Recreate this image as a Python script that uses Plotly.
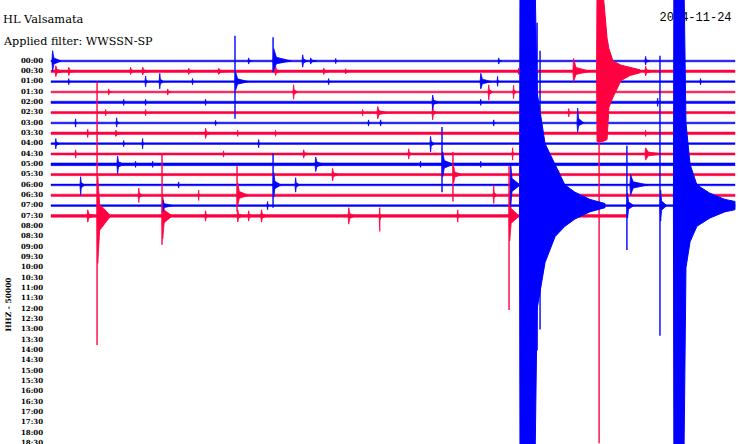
import plotly.graph_objects as go

station = "HL Valsamata"
filter_text = "Applied filter: WWSSN-SP"
date_text = "2024-11-24"
channel_text = "HHZ - 50000"

row_labels = ["00:00", "00:30", "01:00", "01:30", "02:00", "02:30", "03:00", "03:30",
              "04:00", "04:30", "05:00", "05:30", "06:00", "06:30", "07:00", "07:30",
              "08:00", "08:30", "09:00", "09:30", "10:00", "10:30", "11:00", "11:30",
              "12:00", "12:30", "13:00", "13:30", "14:00", "14:30", "15:00", "15:30",
              "16:00", "16:30", "17:00", "17:30", "18:00", "18:30", "19:00", "19:30",
              "20:00", "20:30", "21:00", "21:30", "22:00", "22:30", "23:00", "23:30"]

# minutes of data recorded in each 30-min row (rows with data only)
row_end = [30, 30, 30, 30, 30, 30, 30, 30, 30, 30, 30, 30, 30, 30, 30, 25.26]
# background noise half-amplitude per row (in row-spacing units)
row_noise = [0.08, 0.12, 0.08, 0.08, 0.11, 0.10, 0.08, 0.12,
             0.08, 0.10, 0.13, 0.10, 0.08, 0.11, 0.08, 0.13]

# events: row, minute in row, amplitude up, amplitude down, coda length (min)
ev_row = [0, 0, 0, 0, 0, 0, 0, 0,
          1, 1, 1, 1, 1, 1, 1, 1, 1, 1, 1, 1,
          2, 2, 2, 2, 2, 2, 2, 2, 2,
          3, 3, 3, 3, 3,
          4, 4, 4, 4, 4, 4,
          5, 5, 5, 5, 5, 5,
          6, 6, 6, 6, 6, 6, 6,
          7, 7, 7, 7, 7, 7,
          8, 8, 8, 8, 8,
          9, 9, 9, 9, 9, 9,
          10, 10, 10, 10, 10, 10, 10,
          11, 11, 11,
          12, 12, 12, 12, 12, 12,
          13, 13, 13, 13,
          14, 14, 14, 14,
          15, 15, 15, 15, 15, 15, 15, 15, 15, 15, 15]
ev_min = [0.04, 8.64, 9.74, 11.01, 11.36, 12.46, 19.61, 26.05,
          0.18, 0.75, 3.46, 3.99, 6.01, 7.32, 9.82, 11.93, 12.89, 20.48, 22.89, 26.05,
          0.75, 4.12, 4.74, 6.18, 8.07, 12.15, 18.82, 19.56, 28.46,
          2.5, 5.09, 10.61, 19.17, 20.26,
          3.16, 4.12, 6.75, 16.71, 18.82, 26.58,
          2.37, 4.12, 13.64, 14.3, 16.71, 22.68,
          1.05, 2.85, 7.19, 13.9, 14.43, 19.39, 23.07,
          1.58, 2.81, 6.75, 8.16, 9.82, 26.05,
          0.18, 3.16, 3.99, 9.08, 16.62,
          1.05, 7.54, 11.05, 15.66, 20.22, 26.05,
          2.89, 3.68, 4.43, 11.58, 16.18, 17.15, 18.82,
          12.32, 17.63, 22.24,
          1.27, 5.57, 9.74, 10.7, 20.13, 25.39,
          3.82, 6.45, 8.16, 19.39,
          4.87, 9.47, 25.26, 26.71,
          1.58, 2.02, 4.87, 6.75, 8.16, 8.64, 9.2, 13.03, 14.39, 17.81, 20.09]
ev_up = [1.0, 0.3, 1.2, 0.6, 0.3, 0.25, 0.3, 0.45,
         0.55, 0.4, 0.4, 0.4, 0.3, 0.3, 0.5, 0.3, 0.25, 0.3, 1.25, 0.5,
         0.3, 0.55, 0.8, 0.3, 0.9, 0.3, 0.8, 0.5, 0.3,
         0.3, 0.3, 0.7, 0.7, 0.65,
         0.3, 0.3, 0.3, 0.7, 0.3, 0.4,
         0.3, 0.3, 0.3, 0.6, 0.7, 0.4,
         0.4, 0.5, 0.25, 0.3, 0.3, 0.3, 1.45,
         0.4, 0.3, 0.5, 0.3, 0.3, 0.3,
         0.5, 0.3, 0.5, 0.4, 0.7,
         0.4, 0.3, 0.4, 0.5, 0.6, 0.6,
         0.8, 0.3, 0.3, 0.7, 0.3, 1.2, 0.3,
         0.6, 0.8, 0.4,
         0.8, 0.3, 1.2, 0.7, 2.1, 1.0,
         0.7, 0.5, 1.2, 1.0,
         0.6, 0.4, 1.2, 1.5,
         0.6, 3.8, 1.9, 0.5, 0.6, 0.5, 0.6, 0.8, 0.8, 0.6, 2.4]
ev_dn = [1.0, 0.3, 0.9, 0.6, 0.3, 0.25, 0.3, 0.4,
         0.5, 0.4, 0.3, 0.35, 0.3, 0.3, 0.4, 0.3, 0.25, 0.3, 1.0, 0.45,
         0.3, 0.5, 0.7, 0.3, 0.8, 0.3, 0.7, 0.45, 0.3,
         0.3, 0.3, 0.7, 0.8, 0.65,
         0.3, 0.3, 0.3, 0.7, 0.3, 0.4,
         0.3, 0.3, 0.3, 0.6, 0.7, 0.4,
         0.4, 0.4, 0.25, 0.3, 0.3, 0.3, 0.9,
         0.4, 0.3, 0.5, 0.3, 0.3, 0.3,
         0.5, 0.3, 0.5, 0.4, 0.8,
         0.4, 0.3, 0.4, 0.5, 0.6, 0.6,
         0.9, 0.3, 0.3, 0.7, 0.3, 1.2, 0.3,
         0.6, 0.8, 0.4,
         1.0, 0.3, 1.2, 0.7, 2.1, 1.0,
         0.7, 0.5, 1.0, 0.8,
         0.6, 0.4, 1.2, 1.5,
         0.6, 4.6, 2.2, 0.5, 0.6, 0.5, 0.6, 0.8, 1.5, 0.6, 2.4]
ev_len = [0.4, 0.15, 0.8, 0.25, 0.3, 0.1, 0.15, 0.2,
          0.4, 0.3, 0.3, 0.4, 0.3, 0.6, 0.3, 0.4, 0.3, 0.1, 0.75, 0.35,
          0.1, 0.15, 0.2, 0.1, 0.6, 0.1, 0.5, 0.1, 0.1,
          0.15, 0.15, 0.2, 0.2, 0.15,
          0.1, 0.1, 0.1, 0.3, 0.1, 0.1,
          0.1, 0.1, 0.1, 0.45, 0.2, 0.15,
          0.1, 0.15, 0.1, 0.1, 0.1, 0.1, 0.3,
          0.15, 0.5, 0.3, 0.1, 0.1, 0.15,
          0.2, 0.1, 0.1, 0.1, 0.2,
          0.15, 0.1, 0.3, 0.2, 0.1, 0.8,
          0.3, 0.1, 0.1, 0.4, 0.1, 0.5, 0.1,
          0.3, 0.4, 0.1,
          0.2, 0.1, 0.35, 0.2, 0.45, 0.8,
          0.2, 0.1, 0.5, 0.15,
          0.5, 0.1, 0.3, 0.3,
          0.4, 0.6, 0.45, 0.2, 0.3, 0.2, 0.3, 0.3, 0.1, 0.15, 0.45]

# single extreme samples (thin spikes): row, minute, reach up, reach down
sp_row = [0, 2, 10, 11, 12, 13, 14, 14, 15, 15, 15, 1, 14, 14]
sp_min = [9.74, 8.07, 17.15, 17.63, 9.74, 8.16, 25.26, 26.71, 2.02, 4.87, 20.09, 24.04, 21.32, 21.45]
sp_up = [2.3, 4.45, 3.6, 2.2, 3.1, 2.8, 5.8, 14.5, 13.0, 6.0, 4.8, 7.0, 17.7, 15.0]
sp_dn = [1.1, 3.6, 2.7, 2.6, 2.2, 1.6, 4.3, 12.6, 12.5, 2.8, 9.1, 36.0, 14.0, 12.0]

# large earthquakes: full envelopes (minute, up, down)
big_row = [14, 14, 1]
big_min = [[20.55, 20.57, 21.23, 21.32, 21.67, 22.11, 22.54, 22.98, 23.64, 24.3],
           [27.3, 27.32, 27.76, 27.85, 28.03, 28.33, 28.9, 29.56, 30.0],
           [23.93, 23.95, 24.2, 24.39, 24.47, 24.65, 25.0, 25.4, 25.83]]
big_up = [[0, 22, 22, 11, 6, 4, 2, 1.3, 0.6, 0.2],
          [0, 22, 22, 8, 4, 2.0, 1.2, 0.6, 0.4],
          [0, 8, 8, 3.2, 2.2, 1.0, 0.6, 0.35, 0.15]]
big_dn = [[0, 25, 25, 10, 5.5, 3, 2, 1.3, 0.6, 0.2],
          [0, 25, 25, 6, 3.5, 2.0, 1.2, 0.6, 0.4],
          [0, 6.8, 6.8, 6.6, 3.5, 2.5, 0.9, 0.4, 0.15]]

# ---------------- drawing ----------------
BLUE = "#0000ff"
RED = "#ff0040"
FONT = "DejaVu Serif"
PEAK = 0.03    # minutes from onset to peak (drawing style)
KNEE = 0.3     # relative amplitude of the coda just after the peak (drawing style)


def color_of(r):
    return BLUE if r % 2 == 0 else RED


fig = go.Figure()

# date text first so that later traces are drawn over it
fig.add_trace(go.Scatter(x=[29.85], y=[-4.2], text=[date_text], mode="text",
                         textposition="middle left", cliponaxis=False,
                         textfont=dict(family="Liberation Mono", size=12, color="black"),
                         hoverinfo="skip", showlegend=False))

# baselines (noise bands)
for col in (RED, BLUE):
    xs, ys = [], []
    for r, (end, n) in enumerate(zip(row_end, row_noise)):
        if color_of(r) != col:
            continue
        xs += [0, end, end, 0, 0, None]
        ys += [r - n, r - n, r + n, r + n, r - n, None]
    fig.add_trace(go.Scatter(x=xs, y=ys, mode="lines", fill="toself", fillcolor=col,
                             line=dict(color=col, width=0.5), hoverinfo="skip",
                             showlegend=False))

# events (spike + decaying coda)
for col in (RED, BLUE):
    xs, ys = [], []
    for r, t, u, d, ln in zip(ev_row, ev_min, ev_up, ev_dn, ev_len):
        if color_of(r) != col:
            continue
        k = t + PEAK + (ln - PEAK) * 0.15
        xs += [t, t + PEAK, k, t + ln, k, t + PEAK, t, None]
        ys += [r, r - u, r - u * KNEE, r, r + d * KNEE, r + d, r, None]
    fig.add_trace(go.Scatter(x=xs, y=ys, mode="lines", fill="toself", fillcolor=col,
                             line=dict(color=col, width=0.8), hoverinfo="skip",
                             showlegend=False))

# thin spikes
for col in (RED, BLUE):
    xs, ys = [], []
    for r, t, u, d in zip(sp_row, sp_min, sp_up, sp_dn):
        if color_of(r) != col:
            continue
        xs += [t, t, None]
        ys += [r - u, r + d, None]
    fig.add_trace(go.Scatter(x=xs, y=ys, mode="lines", line=dict(color=col, width=1.4),
                             hoverinfo="skip", showlegend=False))

# big events
for r, ts, us, ds in zip(big_row, big_min, big_up, big_dn):
    col = color_of(r)
    xs = list(ts) + list(reversed(ts))
    ys = [r - u for u in us] + [r + d for d in reversed(ds)]
    fig.add_trace(go.Scatter(x=xs, y=ys, mode="lines", fill="toself", fillcolor=col,
                             line=dict(color=col, width=1), hoverinfo="skip",
                             showlegend=False))

# row time labels
fig.add_trace(go.Scatter(x=[-0.35] * len(row_labels), y=list(range(len(row_labels))),
                         text=row_labels, mode="text", textposition="middle left",
                         cliponaxis=True,
                         textfont=dict(family=FONT, size=7, color="black", weight="bold"),
                         hoverinfo="skip", showlegend=False))

fig.add_annotation(text=station, xref="paper", yref="paper", x=1 / 740, y=1 - 19 / 444,
                   xanchor="left", yanchor="middle", showarrow=False,
                   font=dict(family=FONT, size=11.4, color="black"))
fig.add_annotation(text=filter_text, xref="paper", yref="paper", x=1 / 740, y=1 - 41 / 444,
                   xanchor="left", yanchor="middle", showarrow=False,
                   font=dict(family=FONT, size=11.2, color="black"))
fig.add_annotation(text=channel_text, xref="paper", yref="paper", x=7.5 / 740,
                   y=1 - 305 / 444, textangle=-90, xanchor="center", yanchor="middle",
                   showarrow=False,
                   font=dict(family=FONT, size=7.5, color="black", weight="bold"))

fig.update_layout(
    width=740, height=444,
    margin=dict(l=0, r=0, t=0, b=0),
    paper_bgcolor="white", plot_bgcolor="white",
    xaxis=dict(range=[-2.237, 30.22], visible=False, fixedrange=True),
    yaxis=dict(range=[37.08, -5.905], visible=False, fixedrange=True),
    showlegend=False,
)

fig.write_html("out.html", config={"displayModeBar": False},
               post_script="document.body.style.margin='0px';")
